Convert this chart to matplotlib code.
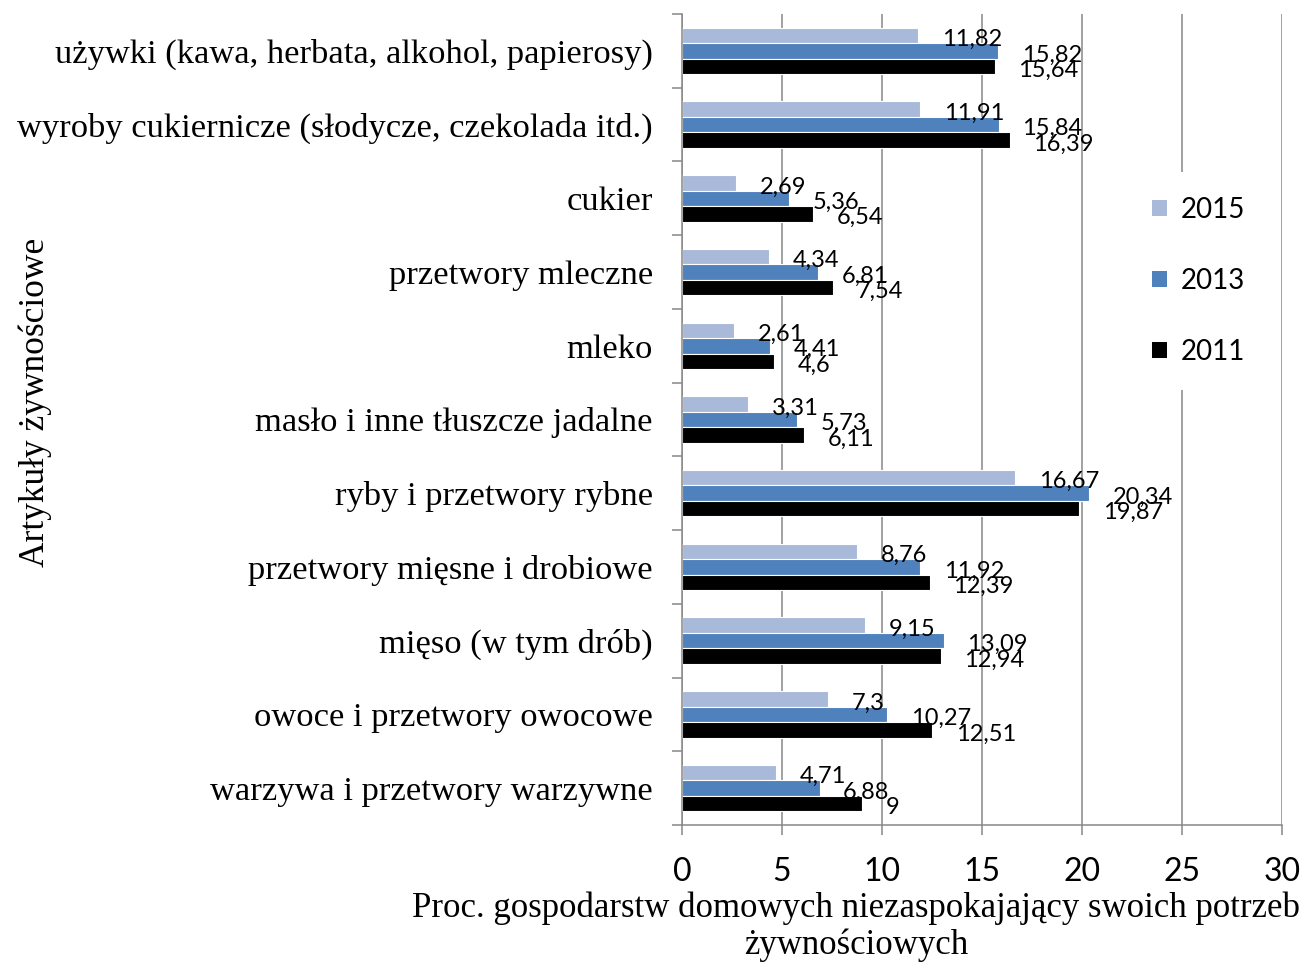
import matplotlib
matplotlib.use("Agg")
import matplotlib.pyplot as plt
from matplotlib.patches import Patch
from matplotlib.ticker import FixedLocator
import numpy as np

categories = [
    "warzywa i przetwory warzywne",
    "owoce i przetwory owocowe",
    "mięso (w tym drób)",
    "przetwory mięsne i drobiowe",
    "ryby i przetwory rybne",
    "masło i inne tłuszcze jadalne",
    "mleko",
    "przetwory mleczne",
    "cukier",
    "wyroby cukiernicze (słodycze, czekolada itd.)",
    "używki (kawa, herbata, alkohol, papierosy)",
]
v2015 = [4.71, 7.3, 9.15, 8.76, 16.67, 3.31, 2.61, 4.34, 2.69, 11.91, 11.82]
v2013 = [6.88, 10.27, 13.09, 11.92, 20.34, 5.73, 4.41, 6.81, 5.36, 15.84, 15.82]
v2011 = [9, 12.51, 12.94, 12.39, 19.87, 6.11, 4.6, 7.54, 6.54, 16.39, 15.64]
series_names = ["2015", "2013", "2011"]
xticks = [0, 5, 10, 15, 20, 25, 30]

colors = ["#A9B9D9", "#4F81BD", "#000000"]
grid_c = "#888888"
sans = "Lato"
serif = "Liberation Serif"

W, H = 1306, 965
fig = plt.figure(figsize=(W / 100, H / 100), dpi=100)
ax = fig.add_axes([682 / W, (H - 825) / H, 600 / W, (825 - 14) / H])

y = np.arange(len(categories))
bh = 0.21
offsets = [bh, 0, -bh]
for vals, off, col in zip([v2015, v2013, v2011], offsets, colors):
    ax.barh(y + off, vals, height=bh, color=col, edgecolor="white",
            linewidth=0.8, zorder=3)
    for yy, v in zip(y + off, vals):
        lab = ("%g" % v).replace(".", ",")
        ax.annotate(lab, (v, yy), xytext=(17, -2.9), textcoords="offset points",
                    ha="left", va="center", fontsize=17, family=sans, zorder=5)

ax.set_xlim(0, 30)
ax.set_ylim(-0.5, len(categories) - 0.5)
ax.set_xticks(xticks)
ax.set_xticklabels([str(t) for t in xticks], fontsize=23, family=sans)
ax.set_yticks(y)
ax.set_yticklabels(categories, fontsize=24.8, family=serif)
ax.yaxis.set_minor_locator(FixedLocator(np.arange(-0.5, len(categories), 1.0)))
ax.tick_params(axis="y", which="major", length=0, pad=21)
ax.tick_params(axis="y", which="minor", length=7.2, width=1.1, color=grid_c, direction="out")
ax.tick_params(axis="x", which="major", length=7.2, width=1.1, color=grid_c, direction="out", pad=15.5)

ax.grid(axis="x", color=grid_c, linewidth=1.1, zorder=0)
ax.set_axisbelow(True)
for s in ["top", "right"]:
    ax.spines[s].set_visible(False)
for s in ["left", "bottom"]:
    ax.spines[s].set_color(grid_c)
    ax.spines[s].set_linewidth(1.1)
    ax.spines[s].set_zorder(4)

handles = [Patch(facecolor=c, edgecolor="none") for c in colors]
leg = ax.legend(handles, series_names, loc="upper left",
                bbox_to_anchor=(1113 / W, (H - 158) / H), bbox_transform=fig.transFigure,
                frameon=True, facecolor="white", edgecolor="none", framealpha=1,
                prop={"family": sans, "size": 20},
                handlelength=0.55, handleheight=0.55, handletextpad=0.5,
                labelspacing=1.62, borderpad=0.9, fancybox=False)
leg.set_zorder(6)

fig.text(856 / W, (H - 908) / H, "Proc. gospodarstw domowych niezaspokajający swoich potrzeb",
         ha="center", va="center", fontsize=25, family=serif)
fig.text(856 / W, (H - 945) / H, "żywnościowych",
         ha="center", va="center", fontsize=25, family=serif)
fig.text(35 / W, (H - 402) / H, "Artykuły żywnościowe", rotation=90,
         ha="center", va="center", fontsize=25.5, family=serif)

fig.savefig("out.png", dpi=100)
